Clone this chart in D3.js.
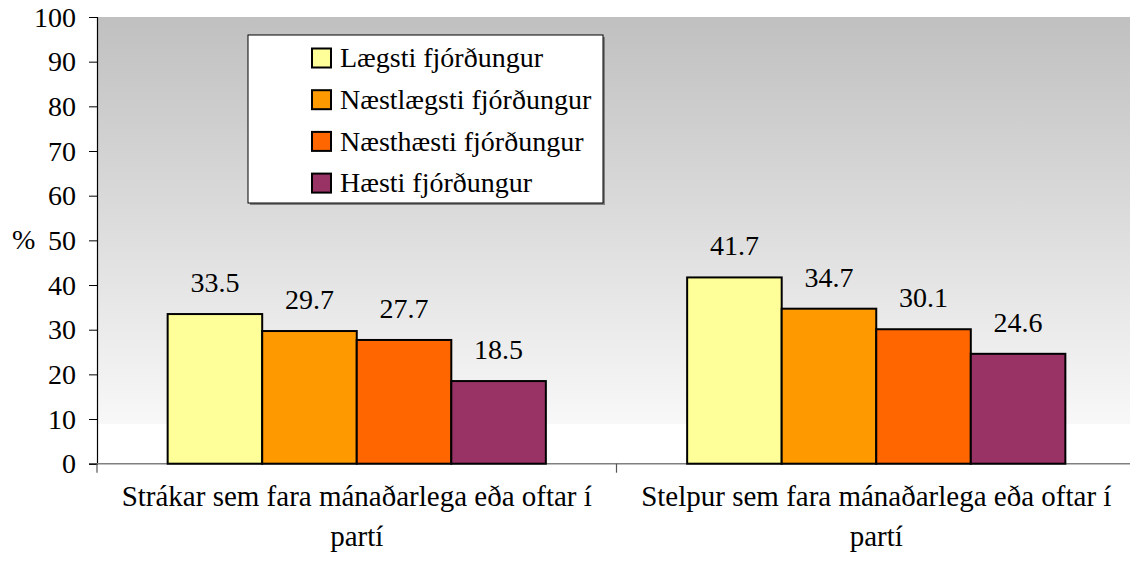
<!DOCTYPE html>
<html>
<head>
<meta charset="utf-8">
<script src="https://cdn.jsdelivr.net/npm/d3@7"></script>
<style>
  body { margin: 0; background: #fff; }
  text { font-family: "Liberation Serif", "Times New Roman", serif; fill: #000; }
</style>
</head>
<body>
<div id="chart"></div>
<script>
// data
var categories = [
    ["Strákar sem fara mánaðarlega eða oftar í", "partí"],
    ["Stelpur sem fara mánaðarlega eða oftar í", "partí"]
];
var seriesNames = ["Lægsti fjórðungur", "Næstlægsti fjórðungur", "Næsthæsti fjórðungur", "Hæsti fjórðungur"];
var seriesColors = ["#ffff99", "#ff9900", "#ff6600", "#993366"];
var boys = [33.5, 29.7, 27.7, 18.5];
var girls = [41.7, 34.7, 30.1, 24.6];
var values = [boys, girls];
var yTicks = [0, 10, 20, 30, 40, 50, 60, 70, 80, 90, 100];

var W = 1130, H = 562;
// plot box (plot runs a little past the right edge of the picture)
var plotL = 97, plotR = 1136, plotT = 17, plotB = 463.7;
var fs = 28;

var svg = d3.select("#chart").append("svg")
    .attr("width", W)
    .attr("height", H);

// background gradient of the plot area
var grad = svg.append("defs").append("linearGradient")
    .attr("id", "bg")
    .attr("x1", 0).attr("y1", 0).attr("x2", 0).attr("y2", 1);
grad.append("stop").attr("offset", "0%").attr("stop-color", "#c0c0c0");
grad.append("stop").attr("offset", "100%").attr("stop-color", "#f8f8f8");

var y = d3.scaleLinear().domain([0, 100]).range([plotB, plotT]);
var x0 = d3.scaleBand().domain([0, 1]).range([plotL, plotR]);
var pad = x0.bandwidth() * 0.136;
var x1 = d3.scaleBand().domain(d3.range(seriesNames.length))
    .range([pad, x0.bandwidth() - pad]);

svg.append("rect")
    .attr("x", plotL).attr("y", plotT)
    .attr("width", plotR - plotL)
    .attr("height", 424 - plotT)
    .attr("fill", "url(#bg)");

// y axis
var yAxis = d3.axisLeft(y).tickValues(yTicks).tickSize(8).tickPadding(13);
var gy = svg.append("g").attr("transform", "translate(" + plotL + ",0)").call(yAxis);
gy.select(".domain").attr("stroke", "#000").attr("stroke-width", 1.2);
gy.selectAll(".tick line").attr("stroke", "#000");
gy.selectAll(".tick text")
    .style("font-size", fs + "px")
    .style("font-family", "'Liberation Serif', 'Times New Roman', serif")
    .attr("dy", "0.33em");

// x axis: line plus ticks at band borders
svg.append("line")
    .attr("x1", plotL).attr("x2", plotR)
    .attr("y1", plotB).attr("y2", plotB)
    .attr("stroke", "#808080").attr("stroke-width", 1.5);
svg.selectAll(".xtick")
    .data([0, 1, 2]).enter()
    .append("line")
    .attr("x1", function(d) { return plotL + d * x0.bandwidth(); })
    .attr("x2", function(d) { return plotL + d * x0.bandwidth(); })
    .attr("y1", plotB).attr("y2", plotB + 9)
    .attr("stroke", "#555").attr("stroke-width", 1.2);

// bars
var groups = svg.selectAll(".grp")
    .data(values).enter()
    .append("g")
    .attr("transform", function(d, i) { return "translate(" + x0(i) + ",0)"; });

groups.selectAll("rect")
    .data(function(d) { return d; }).enter()
    .append("rect")
    .attr("x", function(d, i) { return x1(i); })
    .attr("y", function(d) { return y(d); })
    .attr("width", x1.bandwidth())
    .attr("height", function(d) { return plotB - y(d); })
    .attr("fill", function(d, i) { return seriesColors[i]; })
    .attr("stroke", "#000")
    .attr("stroke-width", 2);

groups.selectAll("text")
    .data(function(d) { return d; }).enter()
    .append("text")
    .attr("x", function(d, i) { return x1(i) + x1.bandwidth() / 2; })
    .attr("y", function(d) { return y(d) - 22; })
    .attr("text-anchor", "middle")
    .style("font-size", fs + "px")
    .text(function(d) { return d.toFixed(1); });

// category labels
categories.forEach(function(lines, i) {
    var t = svg.append("text")
        .attr("text-anchor", "middle")
        .style("font-size", "29px");
    lines.forEach(function(s, j) {
        t.append("tspan")
            .attr("x", x0(i) + x0.bandwidth() / 2)
            .attr("y", 506 + j * 40)
            .text(s);
    });
});

// % label
svg.append("text")
    .attr("x", 12).attr("y", 249)
    .style("font-size", fs + "px")
    .text("%");

// legend
var lg = svg.append("g").attr("transform", "translate(248,35)");
lg.append("rect")
    .attr("x", 2).attr("y", 2).attr("width", 355).attr("height", 168)
    .attr("fill", "#808080");
lg.append("rect")
    .attr("width", 355).attr("height", 168)
    .attr("fill", "#fff").attr("stroke", "#000").attr("stroke-width", 1);

var item = lg.selectAll(".item")
    .data(seriesNames).enter()
    .append("g")
    .attr("transform", function(d, i) { return "translate(64," + (23 + i * 41.7) + ")"; });
item.append("rect")
    .attr("x", 0).attr("y", -9.5)
    .attr("width", 19).attr("height", 19)
    .attr("fill", function(d, i) { return seriesColors[i]; })
    .attr("stroke", "#000").attr("stroke-width", 2);
item.append("text")
    .attr("x", 28).attr("y", 0).attr("dy", "0.33em")
    .style("font-size", fs + "px")
    .text(function(d) { return d; });
</script>
</body>
</html>
